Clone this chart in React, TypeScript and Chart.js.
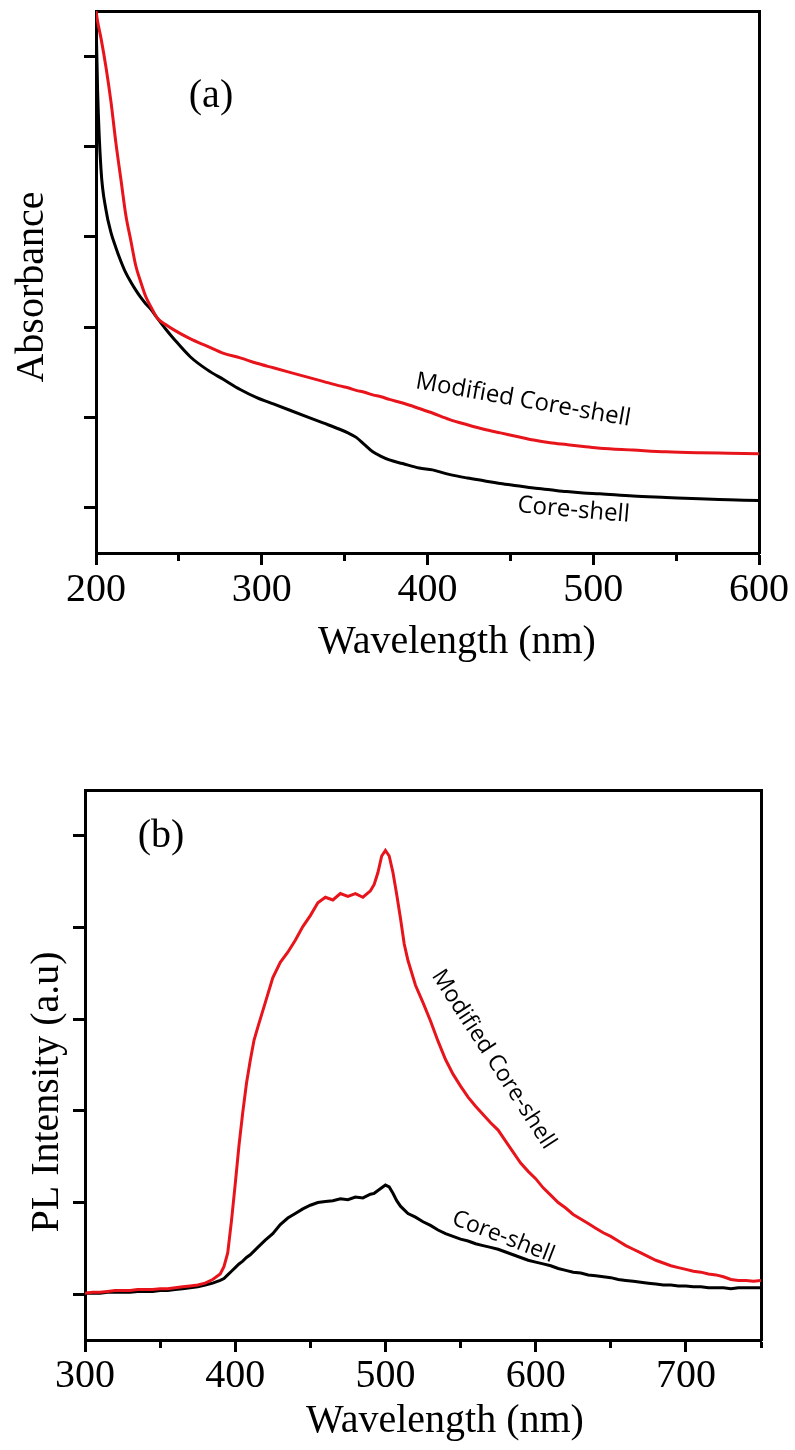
import React, { useEffect, useRef } from "react";
import { Chart, registerables } from "chart.js";

Chart.register(...registerables);

// ---------- (a) UV-Vis absorbance ----------
const absWavelength = [200, 201, 203, 206, 209, 212, 215, 218, 221, 224, 227, 230, 233, 237, 242, 247, 257, 267, 277, 287, 297, 307, 317, 327, 337, 347, 352, 357, 362, 367, 372, 377, 385, 395, 403, 413, 424, 434, 444, 454, 464, 474, 484, 494, 504, 524, 544, 564, 582, 600];
const absModified = [5.5, 5.38, 5.2, 4.88, 4.5, 4.04, 3.64, 3.24, 2.96, 2.68, 2.5, 2.34, 2.23, 2.1, 2.03, 1.97, 1.87, 1.79, 1.71, 1.66, 1.6, 1.55, 1.5, 1.45, 1.4, 1.35, 1.33, 1.3, 1.28, 1.25, 1.23, 1.2, 1.16, 1.1, 1.05, 0.98, 0.92, 0.87, 0.83, 0.79, 0.75, 0.72, 0.7, 0.68, 0.66, 0.64, 0.62, 0.61, 0.605, 0.6];
const absCoreShell = [5.45, 4.6, 3.75, 3.3, 3.05, 2.88, 2.73, 2.6, 2.5, 2.41, 2.33, 2.26, 2.2, 2.1, 1.98, 1.87, 1.67, 1.53, 1.42, 1.31, 1.22, 1.15, 1.08, 1.01, 0.94, 0.87, 0.83, 0.78, 0.7, 0.62, 0.57, 0.53, 0.49, 0.44, 0.42, 0.37, 0.33, 0.3, 0.27, 0.245, 0.22, 0.2, 0.18, 0.165, 0.155, 0.13, 0.115, 0.1, 0.09, 0.08];
const absXTicks = [200, 250, 300, 350, 400, 450, 500, 550, 600];

// ---------- (b) PL spectra ----------
const plWavelength = [300, 305, 310, 315, 320, 325, 330, 335, 340, 345, 350, 355, 360, 365, 370, 375, 380, 385, 390, 392.5, 395, 397.5, 400, 402.5, 405, 407.5, 410, 412.5, 415, 420, 425, 430, 435, 440, 445, 450, 455, 460, 465, 470, 475, 480, 485, 490, 492.5, 495, 497.5, 500, 502.5, 505, 507.5, 510, 512.5, 515, 520, 525, 530, 535, 540, 545, 550, 555, 560, 565, 570, 575, 580, 585, 590, 595, 600, 605, 610, 615, 620, 625, 630, 635, 640, 645, 650, 655, 660, 665, 670, 675, 680, 685, 690, 695, 700, 705, 710, 715, 720, 725, 730, 735, 740, 745, 750];
const plModified = [0.01, 0.02, 0.02, 0.03, 0.04, 0.04, 0.04, 0.05, 0.05, 0.05, 0.06, 0.06, 0.07, 0.08, 0.09, 0.10, 0.12, 0.16, 0.22, 0.30, 0.45, 0.80, 1.20, 1.62, 1.98, 2.30, 2.55, 2.77, 2.91, 3.18, 3.45, 3.62, 3.73, 3.86, 4.01, 4.13, 4.27, 4.33, 4.30, 4.37, 4.34, 4.37, 4.33, 4.40, 4.47, 4.60, 4.78, 4.84, 4.78, 4.60, 4.36, 4.10, 3.82, 3.64, 3.37, 3.18, 2.98, 2.76, 2.56, 2.40, 2.27, 2.15, 2.05, 1.96, 1.87, 1.79, 1.67, 1.55, 1.43, 1.34, 1.26, 1.16, 1.08, 1.00, 0.94, 0.87, 0.82, 0.77, 0.72, 0.67, 0.63, 0.58, 0.53, 0.49, 0.45, 0.41, 0.37, 0.34, 0.31, 0.29, 0.27, 0.25, 0.24, 0.22, 0.21, 0.19, 0.16, 0.15, 0.15, 0.14, 0.15];
const plCoreShell = [0.01, 0.01, 0.01, 0.02, 0.02, 0.02, 0.02, 0.03, 0.03, 0.03, 0.04, 0.04, 0.05, 0.06, 0.07, 0.08, 0.10, 0.12, 0.15, 0.17, 0.21, 0.25, 0.29, 0.33, 0.36, 0.40, 0.43, 0.47, 0.51, 0.59, 0.66, 0.76, 0.83, 0.88, 0.93, 0.97, 1.00, 1.01, 1.02, 1.04, 1.03, 1.06, 1.05, 1.09, 1.10, 1.13, 1.16, 1.19, 1.17, 1.10, 1.02, 0.96, 0.92, 0.88, 0.84, 0.79, 0.75, 0.70, 0.66, 0.63, 0.60, 0.58, 0.55, 0.53, 0.51, 0.49, 0.46, 0.43, 0.40, 0.37, 0.35, 0.33, 0.31, 0.28, 0.26, 0.24, 0.23, 0.21, 0.20, 0.19, 0.18, 0.16, 0.15, 0.14, 0.13, 0.12, 0.11, 0.10, 0.10, 0.09, 0.09, 0.08, 0.08, 0.07, 0.07, 0.07, 0.06, 0.07, 0.07, 0.07, 0.07];
const plXTicks = [300, 350, 400, 450, 500, 550, 600, 650, 700, 750];

const yTickValues = [0, 1, 2, 3, 4, 5];

const RED = "#e8141b";
const SERIF = '"Liberation Serif", "Times New Roman", serif';
const SANS = '"Open Sans", "Noto Sans", sans-serif';

type TextItem = { text: string; x: number; y: number; rot?: number; font: string };

function textPlugin(items: TextItem[]) {
  return {
    id: "freeText",
    afterDraw(chart: any) {
      const ctx = chart.ctx as CanvasRenderingContext2D;
      for (const t of items) {
        ctx.save();
        ctx.translate(t.x, t.y);
        ctx.rotate(((t.rot || 0) * Math.PI) / 180);
        ctx.font = t.font;
        ctx.fillStyle = "#000";
        ctx.textAlign = "center";
        ctx.textBaseline = "alphabetic";
        ctx.fillText(t.text, 0, 0);
        ctx.restore();
      }
    },
  };
}

type Params = {
  height: number;
  area: { left: number; top: number; right: number; bottom: number };
  xs: number[];
  core: number[];
  mod: number[];
  xMin: number;
  xMax: number;
  xTicks: number[];
  smooth: boolean;
  labelPad: number;
  texts: TextItem[];
};

function buildConfig(p: Params): any {
  const xAxisH = 60;
  const border = { display: true, color: "#000", width: 3 };
  return {
    type: "line",
    data: {
      datasets: [
        {
          label: "Modified Core-shell",
          data: p.xs.map((x, i) => ({ x, y: p.mod[i] })),
          borderColor: RED,
          borderWidth: 3,
          pointRadius: 0,
          fill: false,
          tension: 0,
          cubicInterpolationMode: p.smooth ? "monotone" : "default",
        },
        {
          label: "Core-shell",
          data: p.xs.map((x, i) => ({ x, y: p.core[i] })),
          borderColor: "#000",
          borderWidth: 3,
          pointRadius: 0,
          fill: false,
          tension: 0,
          cubicInterpolationMode: p.smooth ? "monotone" : "default",
        },
      ],
    },
    options: {
      animation: false,
      responsive: false,
      devicePixelRatio: 1,
      layout: {
        padding: {
          left: 0,
          top: p.area.top,
          right: 795 - p.area.right,
          bottom: p.height - p.area.bottom - xAxisH,
        },
      },
      plugins: { legend: { display: false }, tooltip: { enabled: false } },
      scales: {
        x: {
          type: "linear",
          position: "bottom",
          min: p.xMin,
          max: p.xMax,
          afterBuildTicks: (s: any) => {
            s.ticks = p.xTicks.map((v) => ({ value: v }));
          },
          afterFit: (s: any) => {
            s.height = xAxisH;
          },
          ticks: {
            autoSkip: false,
            maxRotation: 0,
            minRotation: 0,
            padding: p.labelPad,
            color: "#000",
            font: { family: SERIF, size: 40 },
            callback: (v: number) => (v % 100 === 0 ? String(v) : ""),
          },
          grid: {
            drawOnChartArea: false,
            drawTicks: true,
            tickLength: 12,
            tickWidth: 3,
            tickColor: "#000",
            tickBorderDash: (ctx: any) =>
              ctx.tick && ctx.tick.value % 100 !== 0 ? [6, 40] : [],
          },
          border,
        },
        xTop: {
          type: "linear",
          position: "top",
          display: true,
          min: p.xMin,
          max: p.xMax,
          afterFit: (s: any) => {
            s.height = 0;
          },
          ticks: { display: false },
          grid: { drawOnChartArea: false, drawTicks: false },
          border,
        },
        y: {
          type: "linear",
          position: "left",
          min: -0.5,
          max: 5.5,
          afterBuildTicks: (s: any) => {
            s.ticks = yTickValues.map((v) => ({ value: v }));
          },
          afterFit: (s: any) => {
            s.width = p.area.left;
          },
          ticks: { display: false },
          grid: {
            drawOnChartArea: false,
            drawTicks: true,
            tickLength: 12,
            tickWidth: 3,
            tickColor: "#000",
          },
          border,
        },
        yRight: {
          type: "linear",
          position: "right",
          display: true,
          min: -0.5,
          max: 5.5,
          afterFit: (s: any) => {
            s.width = 0;
          },
          ticks: { display: false },
          grid: { drawOnChartArea: false, drawTicks: false },
          border,
        },
      },
    },
    plugins: [textPlugin(p.texts)],
  };
}

const configA: Params = {
  height: 700,
  area: { left: 96, top: 11, right: 759, bottom: 553 },
  xs: absWavelength,
  core: absCoreShell,
  mod: absModified,
  xMin: 200,
  xMax: 600,
  xTicks: absXTicks,
  smooth: true,
  labelPad: 1,
  texts: [
    { text: "(a)", x: 211, y: 107, font: `40px ${SERIF}` },
    { text: "Absorbance", x: 43, y: 287, rot: -90, font: `40px ${SERIF}` },
    { text: "Wavelength (nm)", x: 457, y: 653, font: `40px ${SERIF}` },
    { text: "Modified Core-shell", x: 522, y: 407, rot: 10, font: `24px ${SANS}` },
    { text: "Core-shell", x: 573, y: 517, rot: 5, font: `24px ${SANS}` },
  ],
};

const configB: Params = {
  height: 750,
  area: { left: 85, top: 90, right: 761, bottom: 640 },
  xs: plWavelength,
  core: plCoreShell,
  mod: plModified,
  xMin: 300,
  xMax: 750,
  xTicks: plXTicks,
  smooth: false,
  labelPad: 0,
  texts: [
    { text: "(b)", x: 161, y: 147, font: `40px ${SERIF}` },
    { text: "PL Intensity (a.u)", x: 58, y: 392, rot: -90, font: `40px ${SERIF}` },
    { text: "Wavelength (nm)", x: 445, y: 732, font: `40px ${SERIF}` },
    { text: "Modified Core-shell", x: 488, y: 363, rot: 57, font: `23px ${SANS}` },
    { text: "Core-shell", x: 501, y: 543, rot: 21, font: `23px ${SANS}` },
  ],
};

function Plot({ params, top }: { params: Params; top: number }) {
  const ref = useRef<HTMLCanvasElement | null>(null);
  useEffect(() => {
    if (!ref.current) return;
    const chart = new Chart(ref.current, buildConfig(params));
    return () => chart.destroy();
  }, [params]);
  return (
    <canvas
      ref={ref}
      width={795}
      height={params.height}
      style={{ position: "absolute", left: 0, top, width: 795, height: params.height }}
    />
  );
}

export default function App() {
  return (
    <div
      style={{
        position: "absolute",
        left: 0,
        top: 0,
        width: 795,
        height: 1450,
        background: "#fff",
        overflow: "hidden",
      }}
    >
      <Plot params={configA} top={0} />
      <Plot params={configB} top={700} />
    </div>
  );
}
